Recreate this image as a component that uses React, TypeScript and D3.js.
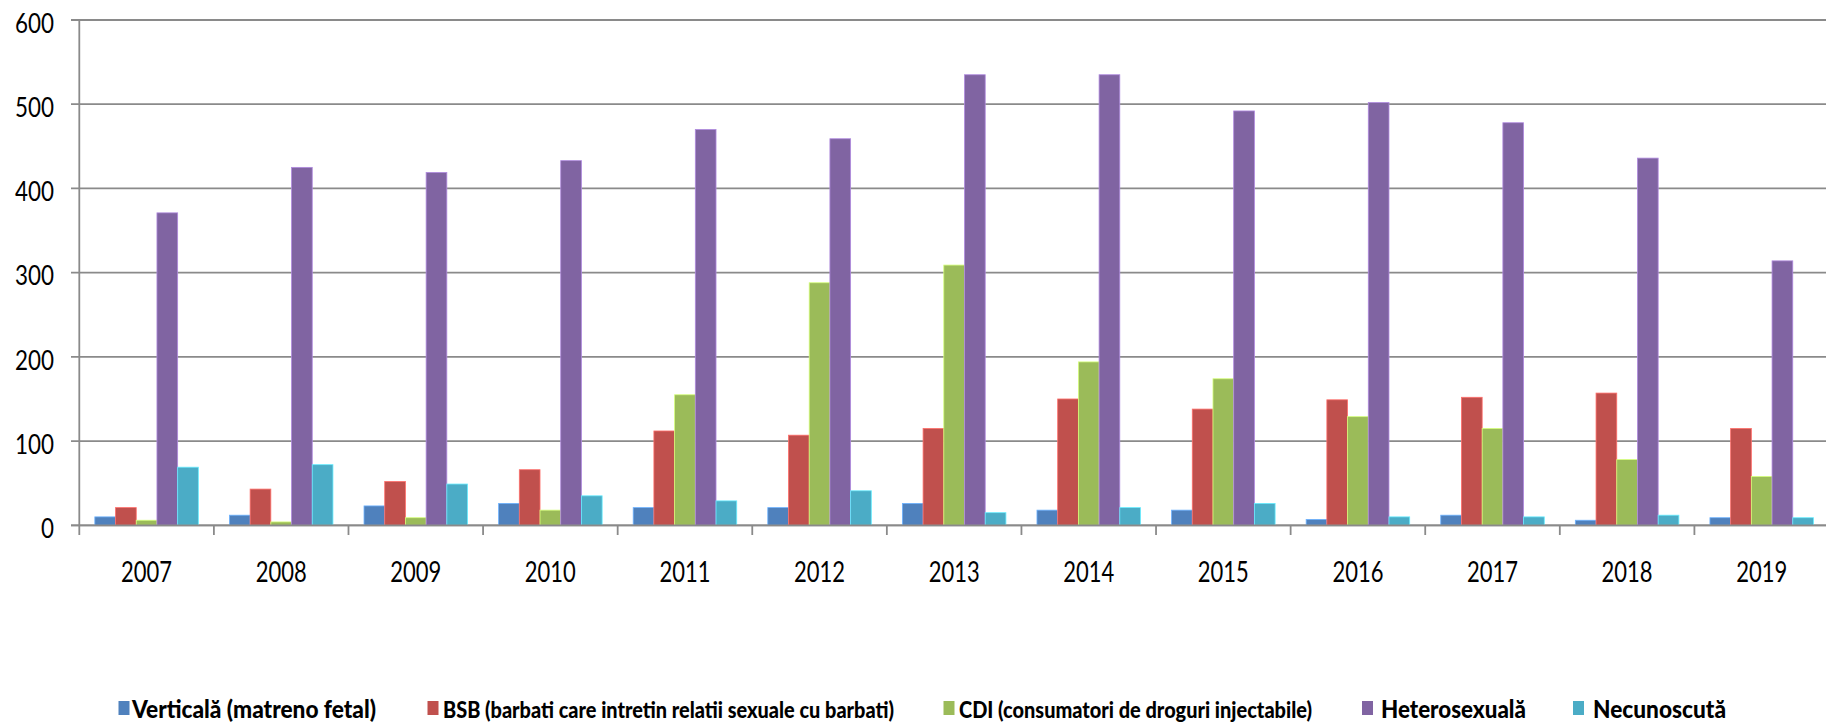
import React from "react";
import * as d3 from "d3";

const years = ["2007","2008","2009","2010","2011","2012","2013","2014","2015","2016","2017","2018","2019"];
const verticala = [10, 12, 23, 26, 21, 21, 26, 18, 18, 7, 12, 6, 9];
const bsb = [21, 43, 52, 66, 112, 107, 115, 150, 138, 149, 152, 157, 115];
const cdi = [6, 4, 9, 18, 155, 288, 309, 194, 174, 129, 115, 78, 58];
const hetero = [371, 425, 419, 433, 470, 459, 535, 535, 492, 502, 478, 436, 314];
const necunoscuta = [69, 72, 49, 35, 29, 41, 15, 21, 26, 10, 10, 12, 9];
const yTicks = [0, 100, 200, 300, 400, 500, 600];
const seriesNames = [
  "Verticală (matreno fetal)",
  "BSB (barbati care intretin relatii sexuale cu barbati)",
  "CDI (consumatori de droguri injectabile)",
  "Heterosexuală",
  "Necunoscută",
];

const seriesValues = [verticala, bsb, cdi, hetero, necunoscuta];
const colors = ["#4F81BD", "#C0504D", "#9BBB59", "#8064A2", "#4BACC6"];

// layout
const W = 1826;
const H = 723;
const left = 79.3;
const right = 1829;
const top = 20;
const bottom = 525.3;
const FONT = "Lato, 'Open Sans', sans-serif";

// legend layout: square x, text x, text width, font size
const legendLayout = [
  { sq: 118.5, tx: 132, tw: 244, fs: 25 },
  { sq: 427.5, tx: 443, tw: 451, fs: 22 },
  { sq: 943.5, tx: 959, tw: 353, fs: 22 },
  { sq: 1362, tx: 1381, tw: 145, fs: 25 },
  { sq: 1573, tx: 1593, tw: 133, fs: 25 },
];

export default function App() {
  const x0 = d3.scaleBand<string>().domain(years).range([left, right]).padding(0);
  const x1 = d3
    .scaleBand<number>()
    .domain(d3.range(seriesValues.length))
    .range([0, x0.bandwidth()])
    .paddingInner(0)
    .paddingOuter(0.75);
  const y = d3.scaleLinear().domain([0, 600]).range([bottom, top]);

  const gridColor = "#8a8a8a";

  return (
    <svg
      width={W}
      height={H}
      style={{ position: "absolute", left: 0, top: 0, background: "#fff" }}
    >
      <rect x={0} y={0} width={W} height={H} fill="#fff" />
      {yTicks.map((t) => (
        <line
          key={"g" + t}
          x1={71}
          x2={right}
          y1={y(t)}
          y2={y(t)}
          stroke={gridColor}
          strokeWidth={1.8}
        />
      ))}
      {yTicks.map((t) => {
        const s = String(t);
        return (
          <text
            key={"yl" + t}
            x={54}
            y={y(t) + 12.7}
            textAnchor="end"
            fontFamily={FONT}
            fontSize={27}
            fill="#000"
            textLength={13 * s.length}
            lengthAdjust="spacingAndGlyphs"
          >
            {s}
          </text>
        );
      })}
      {years.map((yr, i) => (
        <g key={yr} transform={`translate(${x0(yr)},0)`}>
          {seriesValues.map((vals, si) => (
            <rect
              key={si}
              x={x1(si)}
              y={y(vals[i])}
              width={x1.bandwidth()}
              height={bottom - y(vals[i])}
              fill={colors[si]}
              stroke={d3.color(colors[si])!.brighter(0.9).formatHex()}
              strokeWidth={0.8}
            />
          ))}
        </g>
      ))}
      <line x1={left} x2={left} y1={top} y2={535} stroke={gridColor} strokeWidth={1.8} />
      <line x1={71} x2={right} y1={bottom} y2={bottom} stroke={gridColor} strokeWidth={1.8} />
      {years.map((yr) => (
        <line
          key={"t" + yr}
          x1={(x0(yr) as number) + x0.bandwidth()}
          x2={(x0(yr) as number) + x0.bandwidth()}
          y1={bottom}
          y2={535}
          stroke={gridColor}
          strokeWidth={1.8}
        />
      ))}
      {years.map((yr) => (
        <text
          key={"xl" + yr}
          x={(x0(yr) as number) + x0.bandwidth() / 2}
          y={581.7}
          textAnchor="middle"
          fontFamily={FONT}
          fontSize={28}
          fill="#000"
          textLength={51}
          lengthAdjust="spacingAndGlyphs"
        >
          {yr}
        </text>
      ))}
      {seriesNames.map((name, i) => {
        const L = legendLayout[i];
        return (
          <g key={"lg" + i}>
            <rect x={L.sq} y={701} width={11} height={14} fill={colors[i]} />
            <text
              x={L.tx}
              y={718}
              fontFamily={FONT}
              fontWeight={900}
              fontSize={L.fs}
              fill="#000"
              textLength={L.tw}
              lengthAdjust="spacingAndGlyphs"
            >
              {name}
            </text>
          </g>
        );
      })}
    </svg>
  );
}
